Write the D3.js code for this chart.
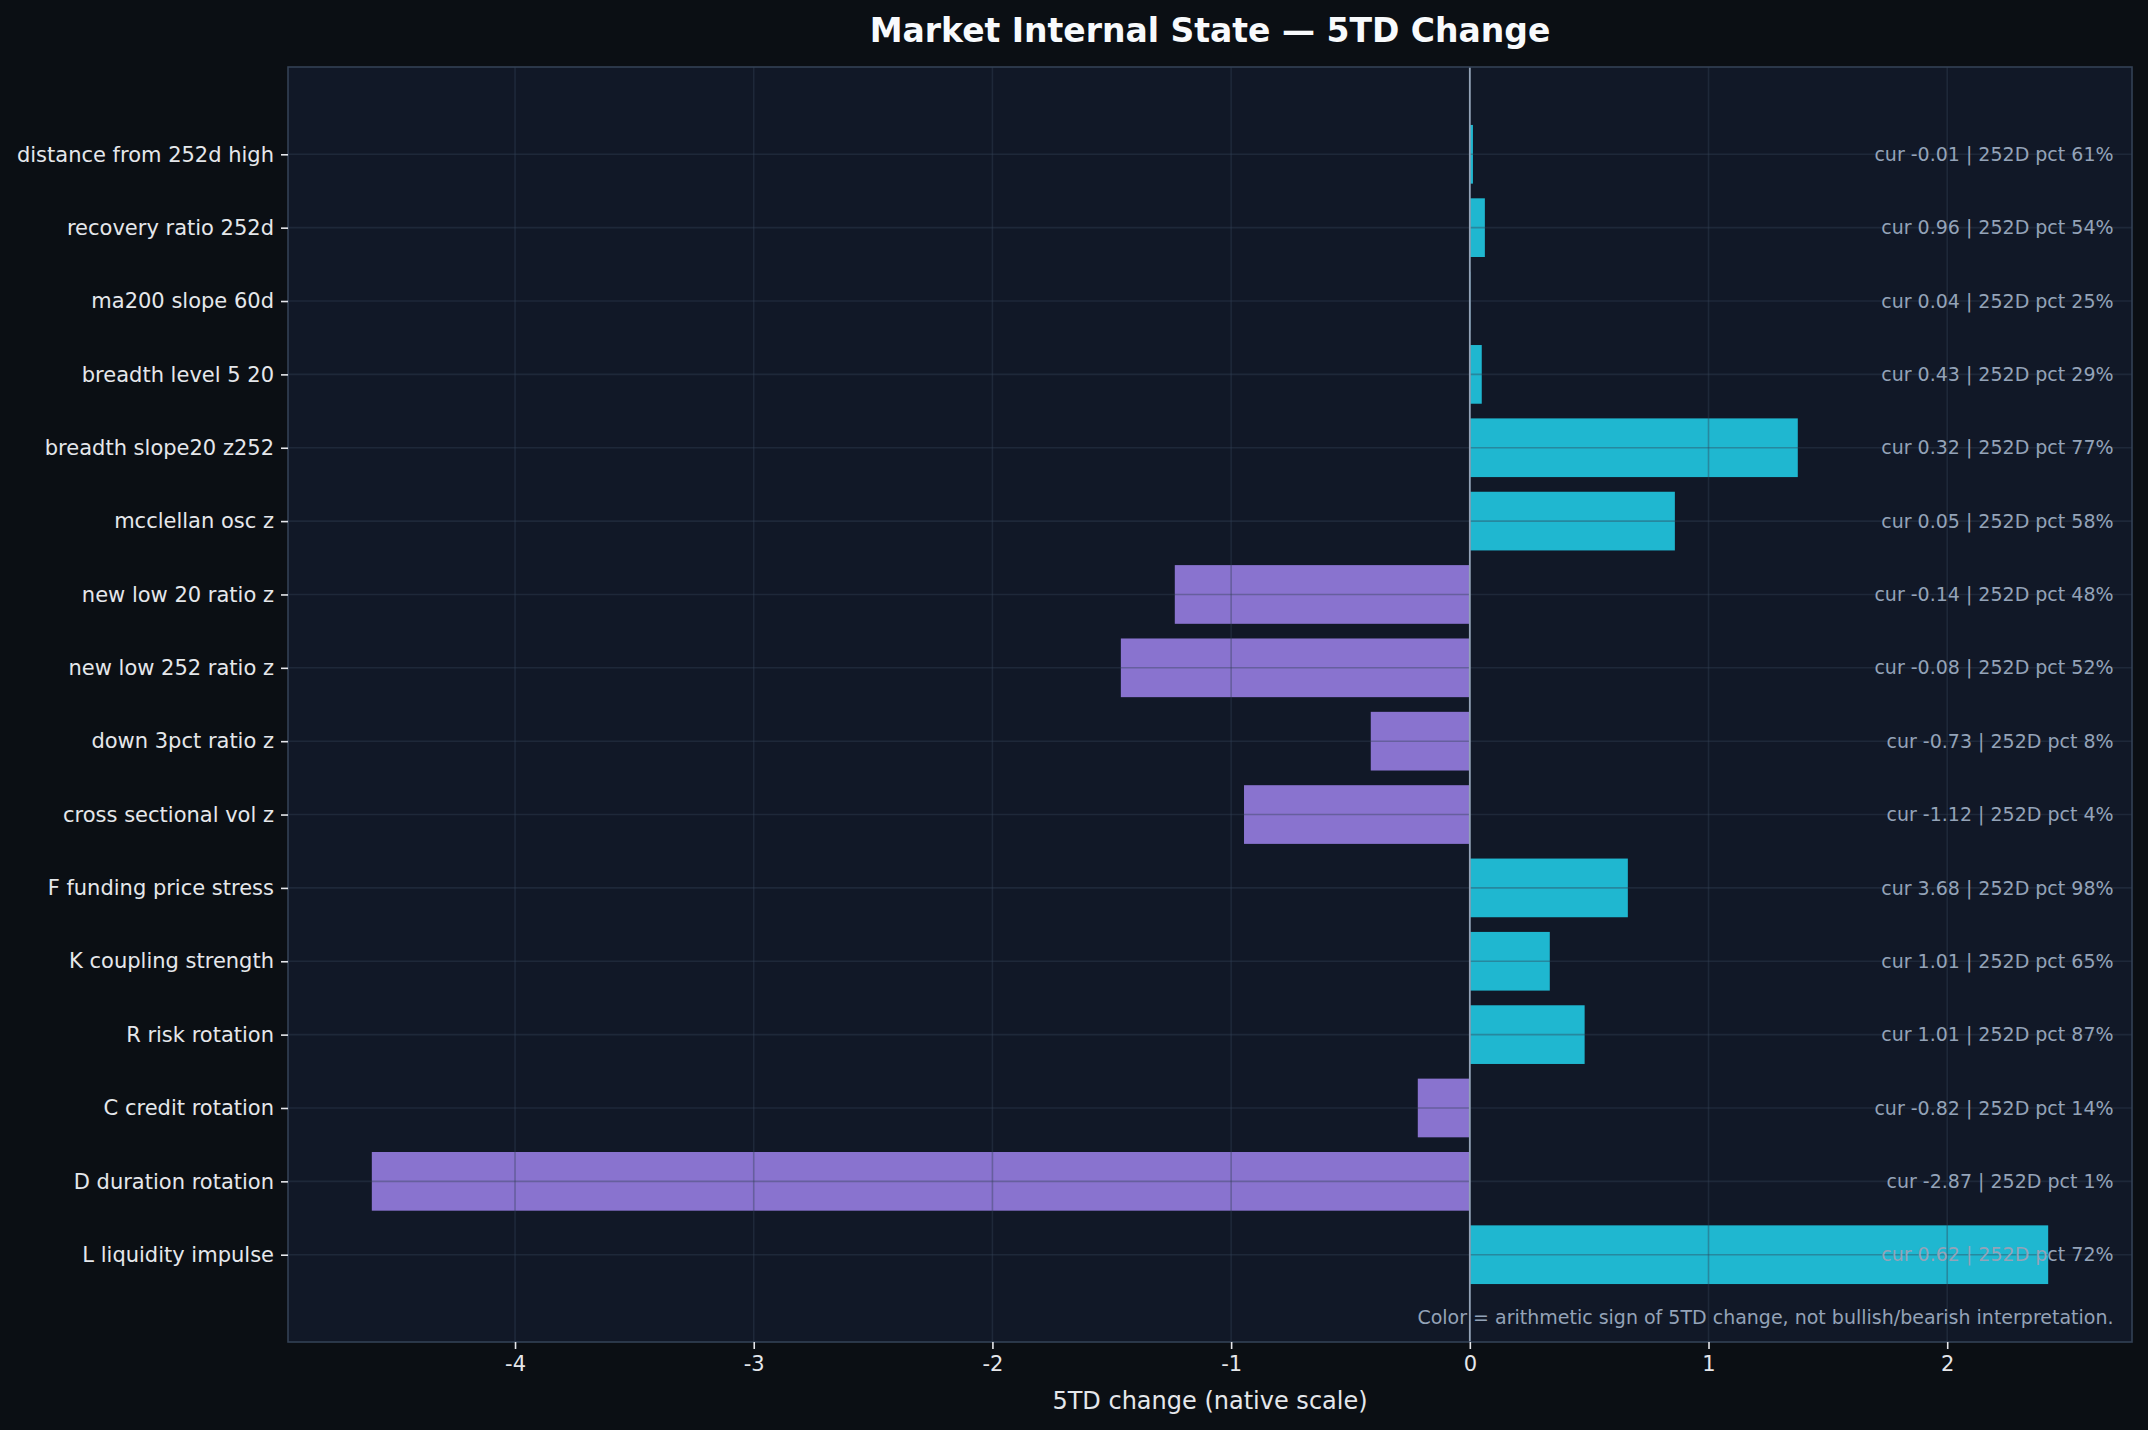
<!DOCTYPE html>
<html>
<head>
<meta charset="utf-8">
<script src="https://cdn.jsdelivr.net/npm/d3@7"></script>
<style>
  body { margin: 0; background: #0b0f14; }
  text { font-family: "DejaVu Sans", sans-serif; }
</style>
</head>
<body>
<div id="chart"></div>
<script>
// metric names, top to bottom
var labels = [
  "distance from 252d high", "recovery ratio 252d", "ma200 slope 60d",
  "breadth level 5 20", "breadth slope20 z252", "mcclellan osc z",
  "new low 20 ratio z", "new low 252 ratio z", "down 3pct ratio z",
  "cross sectional vol z", "F funding price stress", "K coupling strength",
  "R risk rotation", "C credit rotation", "D duration rotation",
  "L liquidity impulse"
];
// 5TD change (bar length)
var change5d = [0.013, 0.063, 0.002, 0.05, 1.374, 0.859, -1.236, -1.462,
  -0.415, -0.946, 0.662, 0.335, 0.481, -0.218, -4.60, 2.423];
// current value and 252D percentile for the right-hand notes
var curValue = [-0.01, 0.96, 0.04, 0.43, 0.32, 0.05, -0.14, -0.08,
  -0.73, -1.12, 3.68, 1.01, 1.01, -0.82, -2.87, 0.62];
var pct252 = [61, 54, 25, 29, 77, 58, 48, 52, 8, 4, 98, 65, 87, 14, 1, 72];
var xTicks = [-4, -3, -2, -1, 0, 1, 2];

var W = 2148, H = 1430;
var margin = {left: 288, right: 16, top: 67, bottom: 88};
var width = W - margin.left - margin.right;
var height = H - margin.top - margin.bottom;

var data = labels.map(function(d, i) {
  return {name: d, v: change5d[i], cur: curValue[i], pct: pct252[i], i: i};
});

var svg = d3.select("#chart").append("svg")
  .attr("width", W)
  .attr("height", H);

svg.append("rect").attr("width", W).attr("height", H).attr("fill", "#0b0f14");

var g = svg.append("g")
  .attr("transform", "translate(" + margin.left + "," + margin.top + ")");

// matplotlib-like 5% margins
var lo = Math.min(0, d3.min(change5d)), hi = Math.max(0, d3.max(change5d));
var pad = (hi - lo) * 0.05;
var x = d3.scaleLinear().domain([lo - pad, hi + pad]).range([0, width]);

var barH = 0.8;
var n = labels.length;
var yPad = (n - 1 + barH) * 0.05;
var y = d3.scaleLinear()
  .domain([-barH / 2 - yPad, n - 1 + barH / 2 + yPad])
  .range([0, height]);

g.append("rect")
  .attr("width", width).attr("height", height)
  .attr("fill", "#111827");

// bars
g.selectAll(".bar")
  .data(data)
  .enter().append("rect")
  .attr("class", "bar")
  .attr("x", d => x(Math.min(0, d.v)))
  .attr("width", d => Math.abs(x(d.v) - x(0)))
  .attr("y", d => y(d.i - barH / 2))
  .attr("height", d => y(barH) - y(0))
  .attr("fill", d => d.v >= 0 ? "#22d3ee" : "#a78bfa")
  .attr("fill-opacity", d => d.v >= 0 ? 0.85 : 0.8);

// grid on top of bars
g.append("g")
  .selectAll("line.gx")
  .data(xTicks)
  .enter().append("line")
  .attr("x1", d => x(d)).attr("x2", d => x(d))
  .attr("y1", 0).attr("y2", height)
  .attr("stroke", "#334155").attr("stroke-opacity", 0.4)
  .attr("stroke-width", 1.6);

g.append("g")
  .selectAll("line.gy")
  .data(data)
  .enter().append("line")
  .attr("x1", 0).attr("x2", width)
  .attr("y1", d => y(d.i)).attr("y2", d => y(d.i))
  .attr("stroke", "#334155").attr("stroke-opacity", 0.4)
  .attr("stroke-width", 1.6);

// zero line
g.append("line")
  .attr("x1", x(0)).attr("x2", x(0))
  .attr("y1", 0).attr("y2", height)
  .attr("stroke", "#94a3b8").attr("stroke-width", 1.8);

// notes on the right
g.selectAll(".note")
  .data(data)
  .enter().append("text")
  .attr("class", "note")
  .attr("x", width * 0.99)
  .attr("y", d => y(d.i))
  .attr("dy", "0.35em")
  .attr("text-anchor", "end")
  .attr("font-size", 19)
  .attr("fill", "#94a3b8")
  .text(d => "cur " + d.cur.toFixed(2) + " | 252D pct " + d.pct + "%");

g.append("text")
  .attr("x", width * 0.99)
  .attr("y", height * 0.99 - 5)
  .attr("text-anchor", "end")
  .attr("font-size", 19)
  .attr("fill", "#94a3b8")
  .text("Color = arithmetic sign of 5TD change, not bullish/bearish interpretation.");

// frame
g.append("rect")
  .attr("width", width).attr("height", height)
  .attr("fill", "none")
  .attr("stroke", "#334155").attr("stroke-width", 1.6);

// axes
var xAxis = g.append("g")
  .attr("transform", "translate(0," + height + ")")
  .call(d3.axisBottom(x).tickValues(xTicks).tickFormat(d => String(d))
    .tickSize(7).tickPadding(7));

var yAxis = g.append("g")
  .call(d3.axisLeft(y).tickValues(d3.range(n)).tickFormat(i => labels[i])
    .tickSize(7).tickPadding(7));

[xAxis, yAxis].forEach(function(a) {
  a.select(".domain").remove();
  a.selectAll(".tick line").attr("stroke", "#e5e7eb").attr("stroke-width", 1.6);
  a.selectAll(".tick text").attr("fill", "#e5e7eb").attr("font-size", 21)
    .attr("font-family", "DejaVu Sans");
});

// labels
svg.append("text")
  .attr("x", margin.left + width / 2)
  .attr("y", 1409)
  .attr("text-anchor", "middle")
  .attr("font-size", 24)
  .attr("fill", "#e5e7eb")
  .text("5TD change (native scale)");

svg.append("text")
  .attr("x", margin.left + width / 2)
  .attr("y", 42)
  .attr("text-anchor", "middle")
  .attr("font-size", 33)
  .attr("font-weight", "bold")
  .attr("fill", "#f8fafc")
  .text("Market Internal State \u2014 5TD Change");
</script>
</body>
</html>
